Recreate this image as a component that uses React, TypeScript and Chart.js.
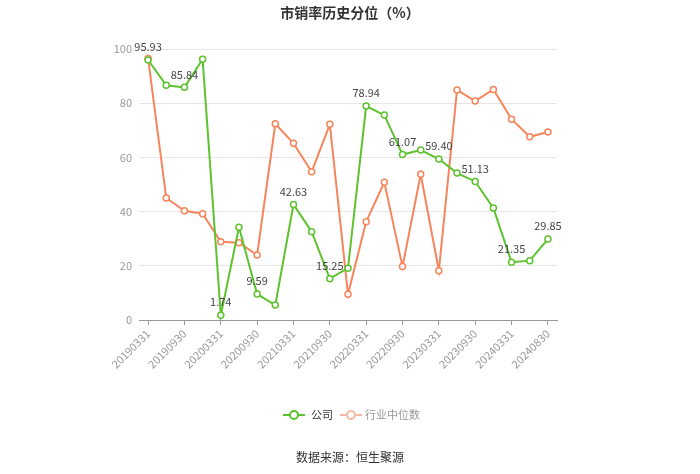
import React, { useEffect, useRef } from "react";
import { Chart, registerables } from "chart.js";

Chart.register(...registerables);

const dates = [
  "20190331", "20190630", "20190930", "20191231",
  "20200331", "20200630", "20200930", "20201231",
  "20210331", "20210630", "20210930", "20211231",
  "20220331", "20220630", "20220930", "20221231",
  "20230331", "20230630", "20230930", "20231231",
  "20240331", "20240630", "20240830",
];

const companyValues = [
  95.93, 86.6, 85.84, 96.2,
  1.74, 34.2, 9.59, 5.5,
  42.63, 32.6, 15.25, 19.1,
  78.94, 75.6, 61.07, 62.7,
  59.4, 54.2, 51.13, 41.3,
  21.35, 21.9, 29.85,
];

const industryValues = [
  96.5, 45.0, 40.3, 39.2,
  28.9, 28.5, 24.0, 72.4,
  65.2, 54.7, 72.2, 9.5,
  36.3, 50.8, 19.7, 53.8,
  18.2, 84.9, 80.8, 85.1,
  74.1, 67.6, 69.4,
];

const yTicks = [0, 20, 40, 60, 80, 100];

const titleText = "市销率历史分位（%）";
const legendLabels = ["公司", "行业中位数"];
const sourceText = "数据来源：恒生聚源";

const GREEN = "#5ec22f";
const ORANGE = "#f7855c";
const FONT = "'Noto Sans CJK SC', sans-serif";

const decorPlugin = {
  id: "decor",
  afterDatasetsDraw(chart: any) {
    const ctx = chart.ctx;
    const meta = chart.getDatasetMeta(0);
    ctx.save();
    ctx.font = `11px ${FONT}`;
    ctx.fillStyle = "#444";
    ctx.textAlign = "center";
    ctx.textBaseline = "middle";
    meta.data.forEach((pt: any, i: number) => {
      if (i % 2 !== 0) return;
      ctx.fillText(companyValues[i].toFixed(2), pt.x, pt.y - 13);
    });
    ctx.restore();
  },
  afterDraw(chart: any) {
    const ctx = chart.ctx;
    ctx.save();
    // title
    ctx.font = `bold 14px ${FONT}`;
    ctx.fillStyle = "#333";
    ctx.textAlign = "center";
    ctx.textBaseline = "middle";
    ctx.fillText(titleText, 350, 13);

    // legend
    const drawSym = (cx: number, color: string) => {
      ctx.strokeStyle = color;
      ctx.lineWidth = 2;
      ctx.beginPath();
      ctx.moveTo(cx - 11, 415);
      ctx.lineTo(cx + 11, 415);
      ctx.stroke();
      ctx.beginPath();
      ctx.arc(cx, 415, 4, 0, Math.PI * 2);
      ctx.fillStyle = "#fff";
      ctx.fill();
      ctx.stroke();
    };
    drawSym(294, GREEN);
    drawSym(351, "#f7b9a3");
    ctx.font = `11px ${FONT}`;
    ctx.textAlign = "left";
    ctx.fillStyle = "#333";
    ctx.fillText(legendLabels[0], 311, 415);
    ctx.fillStyle = "#999";
    ctx.fillText(legendLabels[1], 365, 415);

    // source
    ctx.font = `12px ${FONT}`;
    ctx.fillStyle = "#333";
    ctx.textAlign = "center";
    ctx.fillText(sourceText, 350, 457);
    ctx.restore();
  },
};

export default function App() {
  const ref = useRef<HTMLCanvasElement | null>(null);

  useEffect(() => {
    if (!ref.current) return;
    const chart = new Chart(ref.current, {
      type: "line",
      data: {
        labels: dates,
        datasets: [
          {
            label: legendLabels[0],
            data: companyValues,
            borderColor: GREEN,
            backgroundColor: "#fff",
            borderWidth: 2,
            pointRadius: 3,
            pointBorderWidth: 1.5,
            pointBackgroundColor: "#fff",
            pointBorderColor: GREEN,
            tension: 0,
          },
          {
            label: legendLabels[1],
            data: industryValues,
            borderColor: ORANGE,
            backgroundColor: "#fff",
            borderWidth: 2,
            pointRadius: 3,
            pointBorderWidth: 1.5,
            pointBackgroundColor: "#fff",
            pointBorderColor: ORANGE,
            tension: 0,
          },
        ],
      },
      options: {
        responsive: false,
        animation: false,
        layout: { padding: { top: 49, right: 143, left: 0, bottom: 94 } },
        plugins: {
          legend: { display: false },
          title: { display: false },
          tooltip: { enabled: false },
        },
        scales: {
          x: {
            type: "category",
            offset: true,
            afterFit(scale: any) {
              scale.height = 60;
            },
            grid: {
              display: true,
              drawOnChartArea: false,
              drawTicks: true,
              tickLength: 5,
              color: "#999",
            },
            border: { display: true, color: "#999", width: 1 },
            ticks: {
              autoSkip: false,
              minRotation: 45,
              maxRotation: 45,
              padding: 2,
              color: "#999",
              font: { size: 11, family: FONT },
              callback(value: any, index: number) {
                return index % 2 === 0 ? dates[index] : null;
              },
            },
          },
          y: {
            min: 0,
            max: 100,
            afterFit(scale: any) {
              scale.width = 139;
            },
            afterBuildTicks(scale: any) {
              scale.ticks = yTicks.map((v) => ({ value: v }));
            },
            grid: { color: "#e6e6e6", drawTicks: false, lineWidth: 1 },
            border: { display: false },
            ticks: {
              padding: 7,
              color: "#999",
              font: { size: 11, family: FONT },
            },
          },
        },
      },
      plugins: [decorPlugin],
    });
    return () => chart.destroy();
  }, []);

  return (
    <div style={{ position: "fixed", left: 0, top: 0, width: 700, height: 474, background: "#fff" }}>
      <canvas ref={ref} width={700} height={474} style={{ display: "block" }} />
    </div>
  );
}
